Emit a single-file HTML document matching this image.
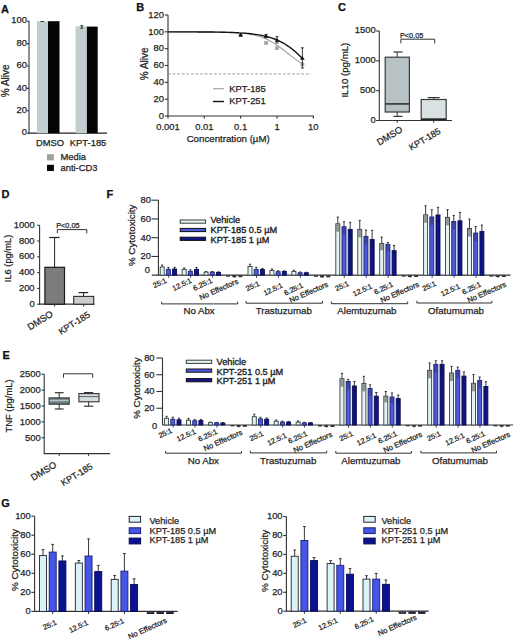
<!DOCTYPE html>
<html><head><meta charset="utf-8"><style>
html,body{margin:0;padding:0;background:#fff;}
body{width:520px;height:642px;overflow:hidden;}
svg{display:block;font-family:"Liberation Sans", sans-serif;}
</style></head><body>
<svg width="520" height="642" viewBox="0 0 520 642">
<rect width="520" height="642" fill="#fff"/>
<text x="0.90" y="12.60" font-size="11" text-anchor="start" font-weight="bold" fill="#111" stroke="#111" stroke-width="0.25">A</text>
<line x1="29.00" y1="20.70" x2="29.00" y2="133.20" stroke="#333" stroke-width="1.1"/>
<line x1="27.00" y1="133.20" x2="29.00" y2="133.20" stroke="#333" stroke-width="1.1"/>
<text x="27.00" y="135.40" font-size="9.4" text-anchor="end" font-weight="normal" fill="#1e1e1e" stroke="#1e1e1e" stroke-width="0.25">0</text>
<line x1="27.00" y1="110.80" x2="29.00" y2="110.80" stroke="#333" stroke-width="1.1"/>
<text x="27.00" y="113.00" font-size="9.4" text-anchor="end" font-weight="normal" fill="#1e1e1e" stroke="#1e1e1e" stroke-width="0.25">20</text>
<line x1="27.00" y1="88.40" x2="29.00" y2="88.40" stroke="#333" stroke-width="1.1"/>
<text x="27.00" y="90.60" font-size="9.4" text-anchor="end" font-weight="normal" fill="#1e1e1e" stroke="#1e1e1e" stroke-width="0.25">40</text>
<line x1="27.00" y1="66.00" x2="29.00" y2="66.00" stroke="#333" stroke-width="1.1"/>
<text x="27.00" y="68.20" font-size="9.4" text-anchor="end" font-weight="normal" fill="#1e1e1e" stroke="#1e1e1e" stroke-width="0.25">60</text>
<line x1="27.00" y1="43.60" x2="29.00" y2="43.60" stroke="#333" stroke-width="1.1"/>
<text x="27.00" y="45.80" font-size="9.4" text-anchor="end" font-weight="normal" fill="#1e1e1e" stroke="#1e1e1e" stroke-width="0.25">80</text>
<line x1="27.00" y1="21.20" x2="29.00" y2="21.20" stroke="#333" stroke-width="1.1"/>
<text x="27.00" y="23.40" font-size="9.4" text-anchor="end" font-weight="normal" fill="#1e1e1e" stroke="#1e1e1e" stroke-width="0.25">100</text>
<line x1="28.50" y1="133.20" x2="107.00" y2="133.20" stroke="#222" stroke-width="1.3"/>
<rect x="37.00" y="21.20" width="11.00" height="112.00" fill="#c2cdcf"/>
<rect x="48.00" y="21.20" width="11.50" height="112.00" fill="#050505"/>
<rect x="75.60" y="26.24" width="11.30" height="106.96" fill="#c2cdcf"/>
<rect x="86.90" y="26.58" width="10.80" height="106.62" fill="#050505"/>
<line x1="40.50" y1="21.50" x2="44.00" y2="21.50" stroke="#222" stroke-width="0.9"/>
<line x1="81.80" y1="25.60" x2="81.80" y2="28.20" stroke="#222" stroke-width="0.9"/>
<line x1="80.40" y1="25.60" x2="83.20" y2="25.60" stroke="#222" stroke-width="0.9"/>
<line x1="80.40" y1="28.20" x2="83.20" y2="28.20" stroke="#222" stroke-width="0.9"/>
<text x="50.10" y="146.30" font-size="9.4" text-anchor="middle" font-weight="normal" fill="#1e1e1e" stroke="#1e1e1e" stroke-width="0.25">DMSO</text>
<text x="88.10" y="146.30" font-size="9.4" text-anchor="middle" font-weight="normal" fill="#1e1e1e" stroke="#1e1e1e" stroke-width="0.25">KPT-185</text>
<rect x="47.00" y="154.20" width="6.90" height="6.20" fill="#a0a0a0"/>
<rect x="47.00" y="164.80" width="6.90" height="6.20" fill="#050505"/>
<text x="60.50" y="160.40" font-size="9.4" text-anchor="start" font-weight="normal" fill="#1e1e1e" stroke="#1e1e1e" stroke-width="0.25">Media</text>
<text x="60.50" y="171.20" font-size="9.4" text-anchor="start" font-weight="normal" fill="#1e1e1e" stroke="#1e1e1e" stroke-width="0.25">anti-CD3</text>
<text x="8.60" y="80.80" font-size="10" text-anchor="middle" font-weight="normal" fill="#1e1e1e" stroke="#1e1e1e" stroke-width="0.25" transform="rotate(-90 8.60 80.80)">% Alive</text>
<text x="136.30" y="11.30" font-size="11" text-anchor="start" font-weight="bold" fill="#111" stroke="#111" stroke-width="0.25">B</text>
<line x1="168.00" y1="15.00" x2="168.00" y2="116.00" stroke="#333" stroke-width="1.1"/>
<line x1="164.80" y1="116.00" x2="168.00" y2="116.00" stroke="#333" stroke-width="1.1"/>
<text x="163.90" y="118.80" font-size="9.4" text-anchor="end" font-weight="normal" fill="#1e1e1e" stroke="#1e1e1e" stroke-width="0.25">0</text>
<line x1="164.80" y1="99.17" x2="168.00" y2="99.17" stroke="#333" stroke-width="1.1"/>
<text x="163.90" y="101.97" font-size="9.4" text-anchor="end" font-weight="normal" fill="#1e1e1e" stroke="#1e1e1e" stroke-width="0.25">20</text>
<line x1="164.80" y1="82.33" x2="168.00" y2="82.33" stroke="#333" stroke-width="1.1"/>
<text x="163.90" y="85.13" font-size="9.4" text-anchor="end" font-weight="normal" fill="#1e1e1e" stroke="#1e1e1e" stroke-width="0.25">40</text>
<line x1="164.80" y1="65.50" x2="168.00" y2="65.50" stroke="#333" stroke-width="1.1"/>
<text x="163.90" y="68.30" font-size="9.4" text-anchor="end" font-weight="normal" fill="#1e1e1e" stroke="#1e1e1e" stroke-width="0.25">60</text>
<line x1="164.80" y1="48.67" x2="168.00" y2="48.67" stroke="#333" stroke-width="1.1"/>
<text x="163.90" y="51.47" font-size="9.4" text-anchor="end" font-weight="normal" fill="#1e1e1e" stroke="#1e1e1e" stroke-width="0.25">80</text>
<line x1="164.80" y1="31.83" x2="168.00" y2="31.83" stroke="#333" stroke-width="1.1"/>
<text x="163.90" y="34.63" font-size="9.4" text-anchor="end" font-weight="normal" fill="#1e1e1e" stroke="#1e1e1e" stroke-width="0.25">100</text>
<line x1="164.80" y1="15.00" x2="168.00" y2="15.00" stroke="#333" stroke-width="1.1"/>
<text x="163.90" y="17.80" font-size="9.4" text-anchor="end" font-weight="normal" fill="#1e1e1e" stroke="#1e1e1e" stroke-width="0.25">120</text>
<line x1="167.50" y1="116.00" x2="314.00" y2="116.00" stroke="#333" stroke-width="1.2"/>
<line x1="168.00" y1="116.00" x2="168.00" y2="118.50" stroke="#333" stroke-width="1.1"/>
<text x="168.00" y="130.40" font-size="9.4" text-anchor="middle" font-weight="normal" fill="#1e1e1e" stroke="#1e1e1e" stroke-width="0.25">0.001</text>
<line x1="204.30" y1="116.00" x2="204.30" y2="118.50" stroke="#333" stroke-width="1.1"/>
<text x="204.30" y="130.40" font-size="9.4" text-anchor="middle" font-weight="normal" fill="#1e1e1e" stroke="#1e1e1e" stroke-width="0.25">0.01</text>
<line x1="240.60" y1="116.00" x2="240.60" y2="118.50" stroke="#333" stroke-width="1.1"/>
<text x="240.60" y="130.40" font-size="9.4" text-anchor="middle" font-weight="normal" fill="#1e1e1e" stroke="#1e1e1e" stroke-width="0.25">0.1</text>
<line x1="277.00" y1="116.00" x2="277.00" y2="118.50" stroke="#333" stroke-width="1.1"/>
<text x="277.00" y="130.40" font-size="9.4" text-anchor="middle" font-weight="normal" fill="#1e1e1e" stroke="#1e1e1e" stroke-width="0.25">1</text>
<line x1="313.30" y1="116.00" x2="313.30" y2="118.50" stroke="#333" stroke-width="1.1"/>
<text x="313.30" y="130.40" font-size="9.4" text-anchor="middle" font-weight="normal" fill="#1e1e1e" stroke="#1e1e1e" stroke-width="0.25">10</text>
<text x="228.20" y="142.20" font-size="9.7" text-anchor="middle" font-weight="normal" fill="#1e1e1e" stroke="#1e1e1e" stroke-width="0.25">Concentration (µM)</text>
<text x="147.60" y="63.80" font-size="10" text-anchor="middle" font-weight="normal" fill="#1e1e1e" stroke="#1e1e1e" stroke-width="0.25" transform="rotate(-90 147.60 63.80)">% Alive</text>
<line x1="168.00" y1="73.92" x2="311.00" y2="73.92" stroke="#8a8a8a" stroke-width="0.9" stroke-dasharray="2.6 2"/>
<polyline points="168.00,31.84 169.68,31.84 171.36,31.84 173.04,31.84 174.72,31.84 176.40,31.84 178.08,31.85 179.76,31.85 181.44,31.85 183.12,31.85 184.80,31.85 186.48,31.86 188.16,31.86 189.84,31.86 191.52,31.87 193.20,31.87 194.88,31.87 196.56,31.88 198.24,31.89 199.92,31.89 201.60,31.90 203.28,31.91 204.96,31.92 206.64,31.93 208.32,31.95 209.99,31.96 211.67,31.98 213.35,32.00 215.03,32.02 216.71,32.05 218.39,32.07 220.07,32.11 221.75,32.14 223.43,32.18 225.11,32.23 226.79,32.28 228.47,32.34 230.15,32.41 231.83,32.48 233.51,32.57 235.19,32.67 236.87,32.78 238.55,32.90 240.23,33.04 241.91,33.20 243.59,33.37 245.27,33.57 246.95,33.80 248.63,34.05 250.31,34.32 251.99,34.64 253.67,34.99 255.35,35.37 257.03,35.80 258.71,36.28 260.39,36.81 262.07,37.39 263.75,38.02 265.43,38.72 267.11,39.48 268.79,40.30 270.47,41.18 272.15,42.13 273.83,43.14 275.51,44.22 277.19,45.34 278.87,46.53 280.55,47.75 282.23,49.02 283.91,50.31 285.59,51.63 287.27,52.95 288.95,54.28 290.63,55.59 292.30,56.88 293.98,58.14 295.66,59.37 297.34,60.54 299.02,61.66 300.70,62.73 302.38,63.73" fill="none" stroke="#a0a0a0" stroke-width="1.1"/>
<polyline points="168.00,31.85 169.68,31.85 171.36,31.85 173.04,31.86 174.72,31.86 176.40,31.86 178.08,31.86 179.76,31.87 181.44,31.87 183.12,31.87 184.80,31.88 186.48,31.88 188.16,31.89 189.84,31.89 191.52,31.90 193.20,31.91 194.88,31.91 196.56,31.92 198.24,31.93 199.92,31.94 201.60,31.95 203.28,31.96 204.96,31.98 206.64,31.99 208.32,32.01 209.99,32.02 211.67,32.04 213.35,32.06 215.03,32.09 216.71,32.11 218.39,32.14 220.07,32.17 221.75,32.21 223.43,32.25 225.11,32.29 226.79,32.33 228.47,32.38 230.15,32.44 231.83,32.50 233.51,32.57 235.19,32.64 236.87,32.72 238.55,32.81 240.23,32.91 241.91,33.02 243.59,33.14 245.27,33.27 246.95,33.41 248.63,33.57 250.31,33.74 251.99,33.93 253.67,34.13 255.35,34.36 257.03,34.61 258.71,34.88 260.39,35.18 262.07,35.50 263.75,35.86 265.43,36.25 267.11,36.67 268.79,37.13 270.47,37.63 272.15,38.18 273.83,38.77 275.51,39.41 277.19,40.10 278.87,40.85 280.55,41.66 282.23,42.54 283.91,43.47 285.59,44.48 287.27,45.55 288.95,46.70 290.63,47.92 292.30,49.22 293.98,50.59 295.66,52.04 297.34,53.57 299.02,55.16 300.70,56.83 302.38,58.56" fill="none" stroke="#111" stroke-width="1.4"/>
<rect x="238.76" y="32.46" width="3.80" height="3.80" fill="#a8a8a8"/>
<rect x="264.15" y="41.04" width="3.80" height="3.80" fill="#a8a8a8"/>
<rect x="275.09" y="46.18" width="3.80" height="3.80" fill="#a8a8a8"/>
<rect x="300.48" y="62.34" width="3.80" height="3.80" fill="#a8a8a8"/>
<line x1="240.66" y1="33.52" x2="240.66" y2="36.04" stroke="#222" stroke-width="0.9"/>
<line x1="239.16" y1="33.52" x2="242.16" y2="33.52" stroke="#222" stroke-width="0.9"/>
<line x1="239.16" y1="36.04" x2="242.16" y2="36.04" stroke="#222" stroke-width="0.9"/>
<line x1="266.05" y1="34.36" x2="266.05" y2="37.72" stroke="#222" stroke-width="0.9"/>
<line x1="264.55" y1="34.36" x2="267.55" y2="34.36" stroke="#222" stroke-width="0.9"/>
<line x1="264.55" y1="37.72" x2="267.55" y2="37.72" stroke="#222" stroke-width="0.9"/>
<line x1="276.99" y1="36.63" x2="276.99" y2="43.03" stroke="#222" stroke-width="0.9"/>
<line x1="275.49" y1="36.63" x2="278.49" y2="36.63" stroke="#222" stroke-width="0.9"/>
<line x1="275.49" y1="43.03" x2="278.49" y2="43.03" stroke="#222" stroke-width="0.9"/>
<line x1="302.38" y1="47.83" x2="302.38" y2="68.03" stroke="#222" stroke-width="0.9"/>
<line x1="300.88" y1="47.83" x2="303.88" y2="47.83" stroke="#222" stroke-width="0.9"/>
<line x1="300.88" y1="68.03" x2="303.88" y2="68.03" stroke="#222" stroke-width="0.9"/>
<path d="M238.36,36.58 L242.96,36.58 L240.66,32.78 Z" fill="#111"/>
<path d="M263.75,37.84 L268.35,37.84 L266.05,34.04 Z" fill="#111"/>
<path d="M274.69,41.63 L279.29,41.63 L276.99,37.83 Z" fill="#111"/>
<path d="M300.08,59.72 L304.68,59.72 L302.38,55.92 Z" fill="#111"/>
<line x1="213.00" y1="88.70" x2="224.00" y2="88.70" stroke="#a0a0a0" stroke-width="1.1"/>
<line x1="213.00" y1="101.50" x2="224.00" y2="101.50" stroke="#111" stroke-width="1.4"/>
<text x="229.30" y="92.40" font-size="9.4" text-anchor="start" font-weight="normal" fill="#1e1e1e" stroke="#1e1e1e" stroke-width="0.25">KPT-185</text>
<text x="229.30" y="104.10" font-size="9.4" text-anchor="start" font-weight="normal" fill="#1e1e1e" stroke="#1e1e1e" stroke-width="0.25">KPT-251</text>
<text x="338.00" y="10.50" font-size="11" text-anchor="start" font-weight="bold" fill="#111" stroke="#111" stroke-width="0.25">C</text>
<line x1="379.30" y1="31.00" x2="379.30" y2="120.50" stroke="#333" stroke-width="1.1"/>
<line x1="376.10" y1="120.50" x2="379.30" y2="120.50" stroke="#333" stroke-width="1.1"/>
<text x="375.60" y="122.90" font-size="9.4" text-anchor="end" font-weight="normal" fill="#1e1e1e" stroke="#1e1e1e" stroke-width="0.25">0</text>
<line x1="376.10" y1="90.67" x2="379.30" y2="90.67" stroke="#333" stroke-width="1.1"/>
<text x="375.60" y="93.07" font-size="9.4" text-anchor="end" font-weight="normal" fill="#1e1e1e" stroke="#1e1e1e" stroke-width="0.25">500</text>
<line x1="376.10" y1="60.83" x2="379.30" y2="60.83" stroke="#333" stroke-width="1.1"/>
<text x="375.60" y="63.23" font-size="9.4" text-anchor="end" font-weight="normal" fill="#1e1e1e" stroke="#1e1e1e" stroke-width="0.25">1000</text>
<line x1="376.10" y1="31.00" x2="379.30" y2="31.00" stroke="#333" stroke-width="1.1"/>
<text x="375.60" y="33.40" font-size="9.4" text-anchor="end" font-weight="normal" fill="#1e1e1e" stroke="#1e1e1e" stroke-width="0.25">1500</text>
<line x1="379.00" y1="120.50" x2="452.00" y2="120.50" stroke="#333" stroke-width="1.2"/>
<line x1="397.20" y1="120.50" x2="397.20" y2="122.80" stroke="#333" stroke-width="1.0"/>
<line x1="433.70" y1="120.50" x2="433.70" y2="122.80" stroke="#333" stroke-width="1.0"/>
<line x1="397.20" y1="52.00" x2="397.20" y2="57.20" stroke="#333" stroke-width="1.0"/>
<line x1="393.50" y1="52.00" x2="402.50" y2="52.00" stroke="#333" stroke-width="1.2"/>
<rect x="385.20" y="57.20" width="24.20" height="54.80" fill="#b6c2c4" stroke="#3a3a3a" stroke-width="1.2"/>
<line x1="385.20" y1="103.90" x2="409.40" y2="103.90" stroke="#3a3a3a" stroke-width="1.7"/>
<line x1="397.20" y1="112.00" x2="397.20" y2="116.40" stroke="#333" stroke-width="1.0"/>
<line x1="393.50" y1="116.40" x2="402.50" y2="116.40" stroke="#333" stroke-width="1.2"/>
<line x1="433.70" y1="97.60" x2="433.70" y2="99.50" stroke="#333" stroke-width="1.0"/>
<line x1="427.60" y1="97.60" x2="439.70" y2="97.60" stroke="#333" stroke-width="1.2"/>
<rect x="421.20" y="99.50" width="25.00" height="19.80" fill="#d9e1e2" stroke="#3a3a3a" stroke-width="1.2"/>
<line x1="421.20" y1="119.20" x2="446.20" y2="119.20" stroke="#222" stroke-width="1.5"/>
<text x="400.00" y="37.80" font-size="7.9" text-anchor="start" font-weight="normal" fill="#1e1e1e" stroke="#1e1e1e" stroke-width="0.25" textLength="23.2" lengthAdjust="spacingAndGlyphs">P&lt;0.05</text>
<path d="M400.9,43.4 L400.9,39.2 L434.7,39.2 L434.7,43.4" stroke="#333" stroke-width="1.0" fill="none"/>
<text x="348.40" y="70.10" font-size="9.7" text-anchor="middle" font-weight="normal" fill="#1e1e1e" stroke="#1e1e1e" stroke-width="0.25" transform="rotate(-90 348.40 70.10)">IL10 (pg/mL)</text>
<text x="403.30" y="131.30" font-size="9.4" text-anchor="end" font-weight="normal" fill="#1e1e1e" stroke="#1e1e1e" stroke-width="0.25" transform="rotate(-31 403.30 131.30)">DMSO</text>
<text x="441.40" y="132.80" font-size="9.0" text-anchor="end" font-weight="normal" fill="#1e1e1e" stroke="#1e1e1e" stroke-width="0.25" transform="rotate(-31 441.40 132.80)">KPT-185</text>
<text x="1.60" y="197.50" font-size="11" text-anchor="start" font-weight="bold" fill="#111" stroke="#111" stroke-width="0.25">D</text>
<line x1="39.60" y1="225.20" x2="39.60" y2="304.20" stroke="#333" stroke-width="1.1"/>
<line x1="37.20" y1="304.20" x2="39.60" y2="304.20" stroke="#333" stroke-width="1.1"/>
<text x="34.60" y="306.80" font-size="9.4" text-anchor="end" font-weight="normal" fill="#1e1e1e" stroke="#1e1e1e" stroke-width="0.25">0</text>
<line x1="37.20" y1="288.40" x2="39.60" y2="288.40" stroke="#333" stroke-width="1.1"/>
<text x="34.60" y="291.00" font-size="9.4" text-anchor="end" font-weight="normal" fill="#1e1e1e" stroke="#1e1e1e" stroke-width="0.25">200</text>
<line x1="37.20" y1="272.60" x2="39.60" y2="272.60" stroke="#333" stroke-width="1.1"/>
<text x="34.60" y="275.20" font-size="9.4" text-anchor="end" font-weight="normal" fill="#1e1e1e" stroke="#1e1e1e" stroke-width="0.25">400</text>
<line x1="37.20" y1="256.80" x2="39.60" y2="256.80" stroke="#333" stroke-width="1.1"/>
<text x="34.60" y="259.40" font-size="9.4" text-anchor="end" font-weight="normal" fill="#1e1e1e" stroke="#1e1e1e" stroke-width="0.25">600</text>
<line x1="37.20" y1="241.00" x2="39.60" y2="241.00" stroke="#333" stroke-width="1.1"/>
<text x="34.60" y="243.60" font-size="9.4" text-anchor="end" font-weight="normal" fill="#1e1e1e" stroke="#1e1e1e" stroke-width="0.25">800</text>
<line x1="37.20" y1="225.20" x2="39.60" y2="225.20" stroke="#333" stroke-width="1.1"/>
<text x="34.60" y="227.80" font-size="9.4" text-anchor="end" font-weight="normal" fill="#1e1e1e" stroke="#1e1e1e" stroke-width="0.25">1000</text>
<line x1="39.00" y1="304.20" x2="94.50" y2="304.20" stroke="#333" stroke-width="1.2"/>
<line x1="54.60" y1="304.20" x2="54.60" y2="306.50" stroke="#333" stroke-width="1.0"/>
<line x1="83.60" y1="304.20" x2="83.60" y2="306.50" stroke="#333" stroke-width="1.0"/>
<line x1="54.60" y1="237.50" x2="54.60" y2="267.30" stroke="#222" stroke-width="1.0"/>
<line x1="49.30" y1="237.50" x2="59.60" y2="237.50" stroke="#222" stroke-width="1.2"/>
<rect x="44.90" y="267.30" width="19.60" height="36.90" fill="#7c7c7c" stroke="#1a1a1a" stroke-width="1.2"/>
<line x1="83.60" y1="292.60" x2="83.60" y2="296.40" stroke="#222" stroke-width="1.0"/>
<line x1="78.60" y1="292.60" x2="88.20" y2="292.60" stroke="#222" stroke-width="1.2"/>
<rect x="73.70" y="296.40" width="20.00" height="7.80" fill="#cdcdcd" stroke="#2a2a2a" stroke-width="1.1"/>
<text x="56.20" y="228.30" font-size="7.9" text-anchor="start" font-weight="normal" fill="#1e1e1e" stroke="#1e1e1e" stroke-width="0.25" textLength="23.4" lengthAdjust="spacingAndGlyphs">P&lt;0.05</text>
<path d="M57.3,233.3 L57.3,229.6 L86.8,229.6 L86.8,233.3" stroke="#333" stroke-width="1.0" fill="none"/>
<text x="11.40" y="258.40" font-size="9.3" text-anchor="middle" font-weight="normal" fill="#1e1e1e" stroke="#1e1e1e" stroke-width="0.25" transform="rotate(-90 11.40 258.40)">IL6 (pg/mL)</text>
<text x="53.80" y="315.60" font-size="9.4" text-anchor="end" font-weight="normal" fill="#1e1e1e" stroke="#1e1e1e" stroke-width="0.25" transform="rotate(-32 53.80 315.60)">DMSO</text>
<text x="90.70" y="316.40" font-size="9.0" text-anchor="end" font-weight="normal" fill="#1e1e1e" stroke="#1e1e1e" stroke-width="0.25" transform="rotate(-32 90.70 316.40)">KPT-185</text>
<text x="2.40" y="358.60" font-size="11" text-anchor="start" font-weight="bold" fill="#111" stroke="#111" stroke-width="0.25">E</text>
<line x1="44.20" y1="374.30" x2="44.20" y2="453.60" stroke="#333" stroke-width="1.1"/>
<line x1="41.60" y1="437.74" x2="44.20" y2="437.74" stroke="#333" stroke-width="1.1"/>
<text x="40.70" y="440.54" font-size="9.4" text-anchor="end" font-weight="normal" fill="#1e1e1e" stroke="#1e1e1e" stroke-width="0.25">500</text>
<line x1="41.60" y1="421.88" x2="44.20" y2="421.88" stroke="#333" stroke-width="1.1"/>
<text x="40.70" y="424.68" font-size="9.4" text-anchor="end" font-weight="normal" fill="#1e1e1e" stroke="#1e1e1e" stroke-width="0.25">1000</text>
<line x1="41.60" y1="406.02" x2="44.20" y2="406.02" stroke="#333" stroke-width="1.1"/>
<text x="40.70" y="408.82" font-size="9.4" text-anchor="end" font-weight="normal" fill="#1e1e1e" stroke="#1e1e1e" stroke-width="0.25">1500</text>
<line x1="41.60" y1="390.16" x2="44.20" y2="390.16" stroke="#333" stroke-width="1.1"/>
<text x="40.70" y="392.96" font-size="9.4" text-anchor="end" font-weight="normal" fill="#1e1e1e" stroke="#1e1e1e" stroke-width="0.25">2000</text>
<line x1="41.60" y1="374.30" x2="44.20" y2="374.30" stroke="#333" stroke-width="1.1"/>
<text x="40.70" y="377.10" font-size="9.4" text-anchor="end" font-weight="normal" fill="#1e1e1e" stroke="#1e1e1e" stroke-width="0.25">2500</text>
<line x1="43.70" y1="453.60" x2="110.00" y2="453.60" stroke="#333" stroke-width="1.2"/>
<line x1="59.20" y1="453.60" x2="59.20" y2="455.90" stroke="#333" stroke-width="1.0"/>
<line x1="88.60" y1="453.60" x2="88.60" y2="455.90" stroke="#333" stroke-width="1.0"/>
<line x1="59.20" y1="392.70" x2="59.20" y2="397.90" stroke="#333" stroke-width="1.0"/>
<line x1="54.80" y1="392.70" x2="63.60" y2="392.70" stroke="#333" stroke-width="1.2"/>
<rect x="49.10" y="397.90" width="20.10" height="6.30" fill="#6c7f86" stroke="#333" stroke-width="1.1"/>
<line x1="49.60" y1="400.50" x2="68.70" y2="400.50" stroke="#b4c2c6" stroke-width="1.5"/>
<line x1="59.20" y1="404.20" x2="59.20" y2="409.00" stroke="#333" stroke-width="1.0"/>
<line x1="54.80" y1="409.00" x2="63.60" y2="409.00" stroke="#333" stroke-width="1.2"/>
<line x1="88.60" y1="392.60" x2="88.60" y2="393.60" stroke="#333" stroke-width="1.0"/>
<line x1="84.00" y1="392.60" x2="93.20" y2="392.60" stroke="#333" stroke-width="1.2"/>
<rect x="78.90" y="393.60" width="20.10" height="8.20" fill="#d3dddf" stroke="#333" stroke-width="1.1"/>
<line x1="78.90" y1="396.60" x2="99.00" y2="396.60" stroke="#555" stroke-width="0.9"/>
<line x1="88.60" y1="401.80" x2="88.60" y2="406.20" stroke="#333" stroke-width="1.0"/>
<line x1="84.00" y1="406.20" x2="93.20" y2="406.20" stroke="#333" stroke-width="1.2"/>
<path d="M63.5,377.7 L63.5,373.8 L92.7,373.8 L92.7,377.7" stroke="#333" stroke-width="1.0" fill="none"/>
<text x="12.30" y="406.00" font-size="9.4" text-anchor="middle" font-weight="normal" fill="#1e1e1e" stroke="#1e1e1e" stroke-width="0.25" transform="rotate(-90 12.30 406.00)">TNF (pg/mL)</text>
<text x="57.30" y="466.60" font-size="9.4" text-anchor="end" font-weight="normal" fill="#1e1e1e" stroke="#1e1e1e" stroke-width="0.25" transform="rotate(-31 57.30 466.60)">DMSO</text>
<text x="93.40" y="468.20" font-size="9.0" text-anchor="end" font-weight="normal" fill="#1e1e1e" stroke="#1e1e1e" stroke-width="0.25" transform="rotate(-31 93.40 468.20)">KPT-185</text>
<line x1="158.40" y1="200.20" x2="158.40" y2="275.20" stroke="#333" stroke-width="1.1"/>
<line x1="151.50" y1="256.45" x2="158.40" y2="256.45" stroke="#333" stroke-width="1.1"/>
<text x="150.90" y="259.25" font-size="9.4" text-anchor="end" font-weight="normal" fill="#1e1e1e" stroke="#1e1e1e" stroke-width="0.25">20</text>
<line x1="151.50" y1="237.70" x2="158.40" y2="237.70" stroke="#333" stroke-width="1.1"/>
<text x="150.90" y="240.50" font-size="9.4" text-anchor="end" font-weight="normal" fill="#1e1e1e" stroke="#1e1e1e" stroke-width="0.25">40</text>
<line x1="151.50" y1="218.95" x2="158.40" y2="218.95" stroke="#333" stroke-width="1.1"/>
<text x="150.90" y="221.75" font-size="9.4" text-anchor="end" font-weight="normal" fill="#1e1e1e" stroke="#1e1e1e" stroke-width="0.25">60</text>
<line x1="151.50" y1="200.20" x2="158.40" y2="200.20" stroke="#333" stroke-width="1.1"/>
<text x="150.90" y="203.00" font-size="9.4" text-anchor="end" font-weight="normal" fill="#1e1e1e" stroke="#1e1e1e" stroke-width="0.25">80</text>
<text x="149.90" y="272.60" font-size="9.4" text-anchor="end" font-weight="normal" fill="#1e1e1e" stroke="#1e1e1e" stroke-width="0.25">0</text>
<line x1="151.80" y1="275.20" x2="510.50" y2="275.20" stroke="#333" stroke-width="1.2"/>
<line x1="168.70" y1="275.20" x2="168.70" y2="277.80" stroke="#333" stroke-width="0.9"/>
<line x1="162.20" y1="265.07" x2="162.20" y2="267.04" stroke="#222" stroke-width="0.9"/>
<line x1="161.10" y1="265.07" x2="163.30" y2="265.07" stroke="#222" stroke-width="0.9"/>
<rect x="160.20" y="267.04" width="4.00" height="8.16" fill="#e6f3f3" stroke="#34403f" stroke-width="0.9"/>
<line x1="168.40" y1="267.51" x2="168.40" y2="269.39" stroke="#222" stroke-width="0.9"/>
<line x1="167.30" y1="267.51" x2="169.50" y2="267.51" stroke="#222" stroke-width="0.9"/>
<rect x="166.40" y="269.39" width="4.00" height="5.81" fill="#4d59dc" stroke="#1d2470" stroke-width="0.9"/>
<line x1="174.60" y1="267.23" x2="174.60" y2="269.01" stroke="#222" stroke-width="0.9"/>
<line x1="173.50" y1="267.23" x2="175.70" y2="267.23" stroke="#222" stroke-width="0.9"/>
<rect x="172.60" y="269.01" width="4.00" height="6.19" fill="#0f1585" stroke="#0a0d50" stroke-width="0.9"/>
<line x1="190.65" y1="275.20" x2="190.65" y2="277.80" stroke="#333" stroke-width="0.9"/>
<line x1="184.15" y1="267.98" x2="184.15" y2="269.39" stroke="#222" stroke-width="0.9"/>
<line x1="183.05" y1="267.98" x2="185.25" y2="267.98" stroke="#222" stroke-width="0.9"/>
<rect x="182.15" y="269.39" width="4.00" height="5.81" fill="#e6f3f3" stroke="#34403f" stroke-width="0.9"/>
<line x1="190.35" y1="269.86" x2="190.35" y2="271.36" stroke="#222" stroke-width="0.9"/>
<line x1="189.25" y1="269.86" x2="191.45" y2="269.86" stroke="#222" stroke-width="0.9"/>
<rect x="188.35" y="271.36" width="4.00" height="3.84" fill="#4d59dc" stroke="#1d2470" stroke-width="0.9"/>
<line x1="196.55" y1="267.51" x2="196.55" y2="269.39" stroke="#222" stroke-width="0.9"/>
<line x1="195.45" y1="267.51" x2="197.65" y2="267.51" stroke="#222" stroke-width="0.9"/>
<rect x="194.55" y="269.39" width="4.00" height="5.81" fill="#0f1585" stroke="#0a0d50" stroke-width="0.9"/>
<line x1="212.60" y1="275.20" x2="212.60" y2="277.80" stroke="#333" stroke-width="0.9"/>
<line x1="206.10" y1="271.54" x2="206.10" y2="272.11" stroke="#222" stroke-width="0.9"/>
<line x1="205.00" y1="271.54" x2="207.20" y2="271.54" stroke="#222" stroke-width="0.9"/>
<rect x="204.10" y="272.11" width="4.00" height="3.09" fill="#e6f3f3" stroke="#34403f" stroke-width="0.9"/>
<line x1="212.30" y1="271.54" x2="212.30" y2="272.11" stroke="#222" stroke-width="0.9"/>
<line x1="211.20" y1="271.54" x2="213.40" y2="271.54" stroke="#222" stroke-width="0.9"/>
<rect x="210.30" y="272.11" width="4.00" height="3.09" fill="#4d59dc" stroke="#1d2470" stroke-width="0.9"/>
<line x1="218.50" y1="271.92" x2="218.50" y2="272.39" stroke="#222" stroke-width="0.9"/>
<line x1="217.40" y1="271.92" x2="219.60" y2="271.92" stroke="#222" stroke-width="0.9"/>
<rect x="216.50" y="272.39" width="4.00" height="2.81" fill="#0f1585" stroke="#0a0d50" stroke-width="0.9"/>
<line x1="234.55" y1="275.20" x2="234.55" y2="277.80" stroke="#333" stroke-width="0.9"/>
<rect x="226.05" y="275.20" width="4.00" height="1.44" fill="#333"/>
<rect x="232.25" y="275.20" width="4.00" height="2.00" fill="#333"/>
<rect x="238.45" y="275.20" width="4.00" height="2.00" fill="#333"/>
<line x1="256.50" y1="275.20" x2="256.50" y2="277.80" stroke="#333" stroke-width="0.9"/>
<line x1="250.00" y1="264.23" x2="250.00" y2="266.48" stroke="#222" stroke-width="0.9"/>
<line x1="248.90" y1="264.23" x2="251.10" y2="264.23" stroke="#222" stroke-width="0.9"/>
<rect x="248.00" y="266.48" width="4.00" height="8.72" fill="#e6f3f3" stroke="#34403f" stroke-width="0.9"/>
<line x1="256.20" y1="267.32" x2="256.20" y2="269.39" stroke="#222" stroke-width="0.9"/>
<line x1="255.10" y1="267.32" x2="257.30" y2="267.32" stroke="#222" stroke-width="0.9"/>
<rect x="254.20" y="269.39" width="4.00" height="5.81" fill="#4d59dc" stroke="#1d2470" stroke-width="0.9"/>
<line x1="262.40" y1="268.45" x2="262.40" y2="269.57" stroke="#222" stroke-width="0.9"/>
<line x1="261.30" y1="268.45" x2="263.50" y2="268.45" stroke="#222" stroke-width="0.9"/>
<rect x="260.40" y="269.57" width="4.00" height="5.62" fill="#0f1585" stroke="#0a0d50" stroke-width="0.9"/>
<line x1="278.45" y1="275.20" x2="278.45" y2="277.80" stroke="#333" stroke-width="0.9"/>
<line x1="271.95" y1="269.01" x2="271.95" y2="270.42" stroke="#222" stroke-width="0.9"/>
<line x1="270.85" y1="269.01" x2="273.05" y2="269.01" stroke="#222" stroke-width="0.9"/>
<rect x="269.95" y="270.42" width="4.00" height="4.78" fill="#e6f3f3" stroke="#34403f" stroke-width="0.9"/>
<line x1="278.15" y1="270.79" x2="278.15" y2="271.73" stroke="#222" stroke-width="0.9"/>
<line x1="277.05" y1="270.79" x2="279.25" y2="270.79" stroke="#222" stroke-width="0.9"/>
<rect x="276.15" y="271.73" width="4.00" height="3.47" fill="#4d59dc" stroke="#1d2470" stroke-width="0.9"/>
<line x1="284.35" y1="270.79" x2="284.35" y2="271.54" stroke="#222" stroke-width="0.9"/>
<line x1="283.25" y1="270.79" x2="285.45" y2="270.79" stroke="#222" stroke-width="0.9"/>
<rect x="282.35" y="271.54" width="4.00" height="3.66" fill="#0f1585" stroke="#0a0d50" stroke-width="0.9"/>
<line x1="300.40" y1="275.20" x2="300.40" y2="277.80" stroke="#333" stroke-width="0.9"/>
<line x1="293.90" y1="270.23" x2="293.90" y2="271.54" stroke="#222" stroke-width="0.9"/>
<line x1="292.80" y1="270.23" x2="295.00" y2="270.23" stroke="#222" stroke-width="0.9"/>
<rect x="291.90" y="271.54" width="4.00" height="3.66" fill="#e6f3f3" stroke="#34403f" stroke-width="0.9"/>
<line x1="300.10" y1="272.01" x2="300.10" y2="272.76" stroke="#222" stroke-width="0.9"/>
<line x1="299.00" y1="272.01" x2="301.20" y2="272.01" stroke="#222" stroke-width="0.9"/>
<rect x="298.10" y="272.76" width="4.00" height="2.44" fill="#4d59dc" stroke="#1d2470" stroke-width="0.9"/>
<line x1="306.30" y1="272.29" x2="306.30" y2="272.76" stroke="#222" stroke-width="0.9"/>
<line x1="305.20" y1="272.29" x2="307.40" y2="272.29" stroke="#222" stroke-width="0.9"/>
<rect x="304.30" y="272.76" width="4.00" height="2.44" fill="#0f1585" stroke="#0a0d50" stroke-width="0.9"/>
<line x1="322.35" y1="275.20" x2="322.35" y2="277.80" stroke="#333" stroke-width="0.9"/>
<rect x="313.85" y="275.20" width="4.00" height="1.62" fill="#333"/>
<rect x="320.05" y="275.20" width="4.00" height="2.19" fill="#333"/>
<rect x="326.25" y="275.20" width="4.00" height="2.19" fill="#333"/>
<line x1="344.30" y1="275.20" x2="344.30" y2="277.80" stroke="#333" stroke-width="0.9"/>
<line x1="337.80" y1="217.07" x2="337.80" y2="223.73" stroke="#222" stroke-width="0.9"/>
<line x1="336.70" y1="217.07" x2="338.90" y2="217.07" stroke="#222" stroke-width="0.9"/>
<rect x="335.80" y="223.73" width="4.00" height="51.47" fill="#e6f3f3" stroke="#34403f" stroke-width="0.9"/>
<rect x="336.30" y="224.23" width="3.00" height="7.50" fill="#000" fill-opacity="0.38"/>
<line x1="344.00" y1="221.76" x2="344.00" y2="226.73" stroke="#222" stroke-width="0.9"/>
<line x1="342.90" y1="221.76" x2="345.10" y2="221.76" stroke="#222" stroke-width="0.9"/>
<rect x="342.00" y="226.73" width="4.00" height="48.47" fill="#4d59dc" stroke="#1d2470" stroke-width="0.9"/>
<rect x="342.50" y="227.23" width="3.00" height="7.50" fill="#000" fill-opacity="0.22"/>
<line x1="350.20" y1="222.32" x2="350.20" y2="229.36" stroke="#222" stroke-width="0.9"/>
<line x1="349.10" y1="222.32" x2="351.30" y2="222.32" stroke="#222" stroke-width="0.9"/>
<rect x="348.20" y="229.36" width="4.00" height="45.84" fill="#0f1585" stroke="#0a0d50" stroke-width="0.9"/>
<rect x="348.70" y="229.86" width="3.00" height="7.50" fill="#000" fill-opacity="0.12"/>
<line x1="366.25" y1="275.20" x2="366.25" y2="277.80" stroke="#333" stroke-width="0.9"/>
<line x1="359.75" y1="220.36" x2="359.75" y2="229.36" stroke="#222" stroke-width="0.9"/>
<line x1="358.65" y1="220.36" x2="360.85" y2="220.36" stroke="#222" stroke-width="0.9"/>
<rect x="357.75" y="229.36" width="4.00" height="45.84" fill="#e6f3f3" stroke="#34403f" stroke-width="0.9"/>
<rect x="358.25" y="229.86" width="3.00" height="7.50" fill="#000" fill-opacity="0.38"/>
<line x1="365.95" y1="230.01" x2="365.95" y2="236.39" stroke="#222" stroke-width="0.9"/>
<line x1="364.85" y1="230.01" x2="367.05" y2="230.01" stroke="#222" stroke-width="0.9"/>
<rect x="363.95" y="236.39" width="4.00" height="38.81" fill="#4d59dc" stroke="#1d2470" stroke-width="0.9"/>
<rect x="364.45" y="236.89" width="3.00" height="7.50" fill="#000" fill-opacity="0.22"/>
<line x1="372.15" y1="230.39" x2="372.15" y2="239.57" stroke="#222" stroke-width="0.9"/>
<line x1="371.05" y1="230.39" x2="373.25" y2="230.39" stroke="#222" stroke-width="0.9"/>
<rect x="370.15" y="239.57" width="4.00" height="35.62" fill="#0f1585" stroke="#0a0d50" stroke-width="0.9"/>
<rect x="370.65" y="240.07" width="3.00" height="7.12" fill="#000" fill-opacity="0.12"/>
<line x1="388.20" y1="275.20" x2="388.20" y2="277.80" stroke="#333" stroke-width="0.9"/>
<line x1="381.70" y1="237.14" x2="381.70" y2="243.51" stroke="#222" stroke-width="0.9"/>
<line x1="380.60" y1="237.14" x2="382.80" y2="237.14" stroke="#222" stroke-width="0.9"/>
<rect x="379.70" y="243.51" width="4.00" height="31.69" fill="#e6f3f3" stroke="#34403f" stroke-width="0.9"/>
<rect x="380.20" y="244.01" width="3.00" height="6.34" fill="#000" fill-opacity="0.38"/>
<line x1="387.90" y1="242.48" x2="387.90" y2="244.36" stroke="#222" stroke-width="0.9"/>
<line x1="386.80" y1="242.48" x2="389.00" y2="242.48" stroke="#222" stroke-width="0.9"/>
<rect x="385.90" y="244.36" width="4.00" height="30.84" fill="#4d59dc" stroke="#1d2470" stroke-width="0.9"/>
<rect x="386.40" y="244.86" width="3.00" height="6.17" fill="#000" fill-opacity="0.22"/>
<line x1="394.10" y1="245.39" x2="394.10" y2="250.64" stroke="#222" stroke-width="0.9"/>
<line x1="393.00" y1="245.39" x2="395.20" y2="245.39" stroke="#222" stroke-width="0.9"/>
<rect x="392.10" y="250.64" width="4.00" height="24.56" fill="#0f1585" stroke="#0a0d50" stroke-width="0.9"/>
<rect x="392.60" y="251.14" width="3.00" height="4.91" fill="#000" fill-opacity="0.12"/>
<line x1="410.15" y1="275.20" x2="410.15" y2="277.80" stroke="#333" stroke-width="0.9"/>
<rect x="401.65" y="275.20" width="4.00" height="1.44" fill="#333"/>
<rect x="407.85" y="275.20" width="4.00" height="1.81" fill="#333"/>
<rect x="414.05" y="275.20" width="4.00" height="1.81" fill="#333"/>
<line x1="432.10" y1="275.20" x2="432.10" y2="277.80" stroke="#333" stroke-width="0.9"/>
<line x1="425.60" y1="205.73" x2="425.60" y2="214.82" stroke="#222" stroke-width="0.9"/>
<line x1="424.50" y1="205.73" x2="426.70" y2="205.73" stroke="#222" stroke-width="0.9"/>
<rect x="423.60" y="214.82" width="4.00" height="60.38" fill="#e6f3f3" stroke="#34403f" stroke-width="0.9"/>
<rect x="424.10" y="215.32" width="3.00" height="7.50" fill="#000" fill-opacity="0.38"/>
<line x1="431.80" y1="209.67" x2="431.80" y2="216.98" stroke="#222" stroke-width="0.9"/>
<line x1="430.70" y1="209.67" x2="432.90" y2="209.67" stroke="#222" stroke-width="0.9"/>
<rect x="429.80" y="216.98" width="4.00" height="58.22" fill="#4d59dc" stroke="#1d2470" stroke-width="0.9"/>
<rect x="430.30" y="217.48" width="3.00" height="7.50" fill="#000" fill-opacity="0.22"/>
<line x1="438.00" y1="207.32" x2="438.00" y2="215.01" stroke="#222" stroke-width="0.9"/>
<line x1="436.90" y1="207.32" x2="439.10" y2="207.32" stroke="#222" stroke-width="0.9"/>
<rect x="436.00" y="215.01" width="4.00" height="60.19" fill="#0f1585" stroke="#0a0d50" stroke-width="0.9"/>
<rect x="436.50" y="215.51" width="3.00" height="7.50" fill="#000" fill-opacity="0.12"/>
<line x1="454.05" y1="275.20" x2="454.05" y2="277.80" stroke="#333" stroke-width="0.9"/>
<line x1="447.55" y1="209.67" x2="447.55" y2="217.36" stroke="#222" stroke-width="0.9"/>
<line x1="446.45" y1="209.67" x2="448.65" y2="209.67" stroke="#222" stroke-width="0.9"/>
<rect x="445.55" y="217.36" width="4.00" height="57.84" fill="#e6f3f3" stroke="#34403f" stroke-width="0.9"/>
<rect x="446.05" y="217.86" width="3.00" height="7.50" fill="#000" fill-opacity="0.38"/>
<line x1="453.75" y1="215.39" x2="453.75" y2="221.48" stroke="#222" stroke-width="0.9"/>
<line x1="452.65" y1="215.39" x2="454.85" y2="215.39" stroke="#222" stroke-width="0.9"/>
<rect x="451.75" y="221.48" width="4.00" height="53.72" fill="#4d59dc" stroke="#1d2470" stroke-width="0.9"/>
<rect x="452.25" y="221.98" width="3.00" height="7.50" fill="#000" fill-opacity="0.22"/>
<line x1="459.95" y1="212.39" x2="459.95" y2="220.82" stroke="#222" stroke-width="0.9"/>
<line x1="458.85" y1="212.39" x2="461.05" y2="212.39" stroke="#222" stroke-width="0.9"/>
<rect x="457.95" y="220.82" width="4.00" height="54.38" fill="#0f1585" stroke="#0a0d50" stroke-width="0.9"/>
<rect x="458.45" y="221.32" width="3.00" height="7.50" fill="#000" fill-opacity="0.12"/>
<line x1="476.00" y1="275.20" x2="476.00" y2="277.80" stroke="#333" stroke-width="0.9"/>
<line x1="469.50" y1="219.04" x2="469.50" y2="228.51" stroke="#222" stroke-width="0.9"/>
<line x1="468.40" y1="219.04" x2="470.60" y2="219.04" stroke="#222" stroke-width="0.9"/>
<rect x="467.50" y="228.51" width="4.00" height="46.69" fill="#e6f3f3" stroke="#34403f" stroke-width="0.9"/>
<rect x="468.00" y="229.01" width="3.00" height="7.50" fill="#000" fill-opacity="0.38"/>
<line x1="475.70" y1="226.54" x2="475.70" y2="233.01" stroke="#222" stroke-width="0.9"/>
<line x1="474.60" y1="226.54" x2="476.80" y2="226.54" stroke="#222" stroke-width="0.9"/>
<rect x="473.70" y="233.01" width="4.00" height="42.19" fill="#4d59dc" stroke="#1d2470" stroke-width="0.9"/>
<rect x="474.20" y="233.51" width="3.00" height="7.50" fill="#000" fill-opacity="0.22"/>
<line x1="481.90" y1="225.14" x2="481.90" y2="231.51" stroke="#222" stroke-width="0.9"/>
<line x1="480.80" y1="225.14" x2="483.00" y2="225.14" stroke="#222" stroke-width="0.9"/>
<rect x="479.90" y="231.51" width="4.00" height="43.69" fill="#0f1585" stroke="#0a0d50" stroke-width="0.9"/>
<rect x="480.40" y="232.01" width="3.00" height="7.50" fill="#000" fill-opacity="0.12"/>
<line x1="497.95" y1="275.20" x2="497.95" y2="277.80" stroke="#333" stroke-width="0.9"/>
<rect x="489.45" y="275.20" width="4.00" height="1.44" fill="#333"/>
<rect x="495.65" y="275.20" width="4.00" height="1.81" fill="#333"/>
<rect x="501.85" y="275.20" width="4.00" height="1.81" fill="#333"/>
<text x="167.20" y="282.30" font-size="7.3" text-anchor="end" font-weight="normal" fill="#1e1e1e" stroke="#1e1e1e" stroke-width="0.25" transform="rotate(-25 167.20 282.30)">25:1</text>
<text x="192.20" y="282.30" font-size="7.3" text-anchor="end" font-weight="normal" fill="#1e1e1e" stroke="#1e1e1e" stroke-width="0.25" transform="rotate(-25 192.20 282.30)">12.5:1</text>
<text x="213.00" y="282.30" font-size="7.3" text-anchor="end" font-weight="normal" fill="#1e1e1e" stroke="#1e1e1e" stroke-width="0.25" transform="rotate(-25 213.00 282.30)">6.25:1</text>
<text x="238.90" y="283.20" font-size="7.6" text-anchor="end" font-weight="normal" fill="#1e1e1e" stroke="#1e1e1e" stroke-width="0.25" transform="rotate(-24 238.90 283.20)">No Effectors</text>
<text x="260.20" y="285.20" font-size="7.3" text-anchor="end" font-weight="normal" fill="#1e1e1e" stroke="#1e1e1e" stroke-width="0.25" transform="rotate(-25 260.20 285.20)">25:1</text>
<text x="283.30" y="287.10" font-size="7.3" text-anchor="end" font-weight="normal" fill="#1e1e1e" stroke="#1e1e1e" stroke-width="0.25" transform="rotate(-25 283.30 287.10)">12.5:1</text>
<text x="303.80" y="287.10" font-size="7.3" text-anchor="end" font-weight="normal" fill="#1e1e1e" stroke="#1e1e1e" stroke-width="0.25" transform="rotate(-25 303.80 287.10)">6.25:1</text>
<text x="328.80" y="286.10" font-size="7.6" text-anchor="end" font-weight="normal" fill="#1e1e1e" stroke="#1e1e1e" stroke-width="0.25" transform="rotate(-24 328.80 286.10)">No Effectors</text>
<text x="349.50" y="285.20" font-size="7.3" text-anchor="end" font-weight="normal" fill="#1e1e1e" stroke="#1e1e1e" stroke-width="0.25" transform="rotate(-25 349.50 285.20)">25:1</text>
<text x="372.60" y="288.00" font-size="7.3" text-anchor="end" font-weight="normal" fill="#1e1e1e" stroke="#1e1e1e" stroke-width="0.25" transform="rotate(-25 372.60 288.00)">12.5:1</text>
<text x="393.80" y="286.10" font-size="7.3" text-anchor="end" font-weight="normal" fill="#1e1e1e" stroke="#1e1e1e" stroke-width="0.25" transform="rotate(-25 393.80 286.10)">6.25:1</text>
<text x="419.70" y="286.10" font-size="7.6" text-anchor="end" font-weight="normal" fill="#1e1e1e" stroke="#1e1e1e" stroke-width="0.25" transform="rotate(-24 419.70 286.10)">No Effectors</text>
<text x="436.60" y="285.20" font-size="7.3" text-anchor="end" font-weight="normal" fill="#1e1e1e" stroke="#1e1e1e" stroke-width="0.25" transform="rotate(-25 436.60 285.20)">25:1</text>
<text x="460.60" y="288.00" font-size="7.3" text-anchor="end" font-weight="normal" fill="#1e1e1e" stroke="#1e1e1e" stroke-width="0.25" transform="rotate(-25 460.60 288.00)">12.5:1</text>
<text x="481.80" y="286.10" font-size="7.3" text-anchor="end" font-weight="normal" fill="#1e1e1e" stroke="#1e1e1e" stroke-width="0.25" transform="rotate(-25 481.80 286.10)">6.25:1</text>
<text x="506.80" y="286.10" font-size="7.6" text-anchor="end" font-weight="normal" fill="#1e1e1e" stroke="#1e1e1e" stroke-width="0.25" transform="rotate(-24 506.80 286.10)">No Effectors</text>
<path d="M161.60,301.70 L161.60,303.90 L237.70,303.90 L237.70,301.70" stroke="#333" stroke-width="1.0" fill="none"/>
<text x="199.10" y="313.80" font-size="9.7" text-anchor="middle" font-weight="normal" fill="#1e1e1e" stroke="#1e1e1e" stroke-width="0.25">No Abx</text>
<path d="M246.00,301.00 L246.00,303.20 L322.40,303.20 L322.40,301.00" stroke="#333" stroke-width="1.0" fill="none"/>
<text x="283.75" y="313.80" font-size="9.7" text-anchor="middle" font-weight="normal" fill="#1e1e1e" stroke="#1e1e1e" stroke-width="0.25">Trastuzumab</text>
<path d="M331.40,301.50 L331.40,303.70 L407.70,303.70 L407.70,301.50" stroke="#333" stroke-width="1.0" fill="none"/>
<text x="366.90" y="313.80" font-size="9.7" text-anchor="middle" font-weight="normal" fill="#1e1e1e" stroke="#1e1e1e" stroke-width="0.25">Alemtuzumab</text>
<path d="M416.90,300.80 L416.90,303.00 L491.90,303.00 L491.90,300.80" stroke="#333" stroke-width="1.0" fill="none"/>
<text x="456.00" y="313.80" font-size="9.7" text-anchor="middle" font-weight="normal" fill="#1e1e1e" stroke="#1e1e1e" stroke-width="0.25">Ofatumumab</text>
<rect x="180.20" y="220.00" width="25.40" height="3.20" fill="#e6f3f3" stroke="#34403f" stroke-width="1.0"/>
<rect x="180.20" y="228.40" width="25.40" height="3.20" fill="#4d59dc" stroke="#111" stroke-width="1.0"/>
<rect x="180.20" y="237.20" width="25.40" height="3.20" fill="#0f1585" stroke="#111" stroke-width="1.0"/>
<text x="210.50" y="222.60" font-size="9.2" text-anchor="start" font-weight="normal" fill="#1e1e1e" stroke="#1e1e1e" stroke-width="0.35">Vehicle</text>
<text x="210.50" y="233.20" font-size="9.2" text-anchor="start" font-weight="normal" fill="#1e1e1e" stroke="#1e1e1e" stroke-width="0.35">KPT-185 0.5 µM</text>
<text x="210.50" y="242.80" font-size="9.2" text-anchor="start" font-weight="normal" fill="#1e1e1e" stroke="#1e1e1e" stroke-width="0.35">KPT-185 1 µM</text>
<text x="134.90" y="235.30" font-size="9.8" text-anchor="middle" font-weight="normal" fill="#1e1e1e" stroke="#1e1e1e" stroke-width="0.25" transform="rotate(-90 134.90 235.30)">% Cytotoxicity</text>
<line x1="162.50" y1="358.00" x2="162.50" y2="425.00" stroke="#333" stroke-width="1.1"/>
<line x1="156.40" y1="408.25" x2="162.50" y2="408.25" stroke="#333" stroke-width="1.1"/>
<text x="154.60" y="411.05" font-size="9.4" text-anchor="end" font-weight="normal" fill="#1e1e1e" stroke="#1e1e1e" stroke-width="0.25">20</text>
<line x1="156.40" y1="391.50" x2="162.50" y2="391.50" stroke="#333" stroke-width="1.1"/>
<text x="154.60" y="394.30" font-size="9.4" text-anchor="end" font-weight="normal" fill="#1e1e1e" stroke="#1e1e1e" stroke-width="0.25">40</text>
<line x1="156.40" y1="374.75" x2="162.50" y2="374.75" stroke="#333" stroke-width="1.1"/>
<text x="154.60" y="377.55" font-size="9.4" text-anchor="end" font-weight="normal" fill="#1e1e1e" stroke="#1e1e1e" stroke-width="0.25">60</text>
<line x1="156.40" y1="358.00" x2="162.50" y2="358.00" stroke="#333" stroke-width="1.1"/>
<text x="154.60" y="360.80" font-size="9.4" text-anchor="end" font-weight="normal" fill="#1e1e1e" stroke="#1e1e1e" stroke-width="0.25">80</text>
<text x="157.20" y="429.40" font-size="9.4" text-anchor="end" font-weight="normal" fill="#1e1e1e" stroke="#1e1e1e" stroke-width="0.25">0</text>
<line x1="162.50" y1="425.00" x2="513.00" y2="425.00" stroke="#333" stroke-width="1.2"/>
<line x1="173.10" y1="425.00" x2="173.10" y2="427.60" stroke="#333" stroke-width="0.9"/>
<line x1="166.60" y1="416.29" x2="166.60" y2="418.30" stroke="#222" stroke-width="0.9"/>
<line x1="165.50" y1="416.29" x2="167.70" y2="416.29" stroke="#222" stroke-width="0.9"/>
<rect x="164.60" y="418.30" width="4.00" height="6.70" fill="#e6f3f3" stroke="#34403f" stroke-width="0.9"/>
<line x1="172.80" y1="417.21" x2="172.80" y2="419.22" stroke="#222" stroke-width="0.9"/>
<line x1="171.70" y1="417.21" x2="173.90" y2="417.21" stroke="#222" stroke-width="0.9"/>
<rect x="170.80" y="419.22" width="4.00" height="5.78" fill="#4d59dc" stroke="#1d2470" stroke-width="0.9"/>
<line x1="179.00" y1="418.13" x2="179.00" y2="419.81" stroke="#222" stroke-width="0.9"/>
<line x1="177.90" y1="418.13" x2="180.10" y2="418.13" stroke="#222" stroke-width="0.9"/>
<rect x="177.00" y="419.81" width="4.00" height="5.19" fill="#0f1585" stroke="#0a0d50" stroke-width="0.9"/>
<line x1="195.02" y1="425.00" x2="195.02" y2="427.60" stroke="#333" stroke-width="0.9"/>
<line x1="188.52" y1="418.38" x2="188.52" y2="420.23" stroke="#222" stroke-width="0.9"/>
<line x1="187.42" y1="418.38" x2="189.62" y2="418.38" stroke="#222" stroke-width="0.9"/>
<rect x="186.52" y="420.23" width="4.00" height="4.77" fill="#e6f3f3" stroke="#34403f" stroke-width="0.9"/>
<line x1="194.72" y1="419.56" x2="194.72" y2="420.81" stroke="#222" stroke-width="0.9"/>
<line x1="193.62" y1="419.56" x2="195.82" y2="419.56" stroke="#222" stroke-width="0.9"/>
<rect x="192.72" y="420.81" width="4.00" height="4.19" fill="#4d59dc" stroke="#1d2470" stroke-width="0.9"/>
<line x1="200.92" y1="419.47" x2="200.92" y2="420.56" stroke="#222" stroke-width="0.9"/>
<line x1="199.82" y1="419.47" x2="202.02" y2="419.47" stroke="#222" stroke-width="0.9"/>
<rect x="198.92" y="420.56" width="4.00" height="4.44" fill="#0f1585" stroke="#0a0d50" stroke-width="0.9"/>
<line x1="216.94" y1="425.00" x2="216.94" y2="427.60" stroke="#333" stroke-width="0.9"/>
<line x1="210.44" y1="422.15" x2="210.44" y2="422.65" stroke="#222" stroke-width="0.9"/>
<line x1="209.34" y1="422.15" x2="211.54" y2="422.15" stroke="#222" stroke-width="0.9"/>
<rect x="208.44" y="422.65" width="4.00" height="2.34" fill="#e6f3f3" stroke="#34403f" stroke-width="0.9"/>
<line x1="216.64" y1="422.32" x2="216.64" y2="422.82" stroke="#222" stroke-width="0.9"/>
<line x1="215.54" y1="422.32" x2="217.74" y2="422.32" stroke="#222" stroke-width="0.9"/>
<rect x="214.64" y="422.82" width="4.00" height="2.18" fill="#4d59dc" stroke="#1d2470" stroke-width="0.9"/>
<line x1="222.84" y1="422.57" x2="222.84" y2="422.99" stroke="#222" stroke-width="0.9"/>
<line x1="221.74" y1="422.57" x2="223.94" y2="422.57" stroke="#222" stroke-width="0.9"/>
<rect x="220.84" y="422.99" width="4.00" height="2.01" fill="#0f1585" stroke="#0a0d50" stroke-width="0.9"/>
<line x1="238.86" y1="425.00" x2="238.86" y2="427.60" stroke="#333" stroke-width="0.9"/>
<rect x="230.36" y="425.00" width="4.00" height="1.34" fill="#333"/>
<rect x="236.56" y="425.00" width="4.00" height="1.84" fill="#333"/>
<rect x="242.76" y="425.00" width="4.00" height="1.84" fill="#333"/>
<line x1="260.78" y1="425.00" x2="260.78" y2="427.60" stroke="#333" stroke-width="0.9"/>
<line x1="254.28" y1="414.20" x2="254.28" y2="416.71" stroke="#222" stroke-width="0.9"/>
<line x1="253.18" y1="414.20" x2="255.38" y2="414.20" stroke="#222" stroke-width="0.9"/>
<rect x="252.28" y="416.71" width="4.00" height="8.29" fill="#e6f3f3" stroke="#34403f" stroke-width="0.9"/>
<line x1="260.48" y1="417.30" x2="260.48" y2="418.97" stroke="#222" stroke-width="0.9"/>
<line x1="259.38" y1="417.30" x2="261.58" y2="417.30" stroke="#222" stroke-width="0.9"/>
<rect x="258.48" y="418.97" width="4.00" height="6.03" fill="#4d59dc" stroke="#1d2470" stroke-width="0.9"/>
<line x1="266.68" y1="417.96" x2="266.68" y2="419.22" stroke="#222" stroke-width="0.9"/>
<line x1="265.58" y1="417.96" x2="267.78" y2="417.96" stroke="#222" stroke-width="0.9"/>
<rect x="264.68" y="419.22" width="4.00" height="5.78" fill="#0f1585" stroke="#0a0d50" stroke-width="0.9"/>
<line x1="282.70" y1="425.00" x2="282.70" y2="427.60" stroke="#333" stroke-width="0.9"/>
<line x1="276.20" y1="419.98" x2="276.20" y2="421.23" stroke="#222" stroke-width="0.9"/>
<line x1="275.10" y1="419.98" x2="277.30" y2="419.98" stroke="#222" stroke-width="0.9"/>
<rect x="274.20" y="421.23" width="4.00" height="3.77" fill="#e6f3f3" stroke="#34403f" stroke-width="0.9"/>
<line x1="282.40" y1="421.06" x2="282.40" y2="422.07" stroke="#222" stroke-width="0.9"/>
<line x1="281.30" y1="421.06" x2="283.50" y2="421.06" stroke="#222" stroke-width="0.9"/>
<rect x="280.40" y="422.07" width="4.00" height="2.93" fill="#4d59dc" stroke="#1d2470" stroke-width="0.9"/>
<line x1="288.60" y1="421.40" x2="288.60" y2="422.07" stroke="#222" stroke-width="0.9"/>
<line x1="287.50" y1="421.40" x2="289.70" y2="421.40" stroke="#222" stroke-width="0.9"/>
<rect x="286.60" y="422.07" width="4.00" height="2.93" fill="#0f1585" stroke="#0a0d50" stroke-width="0.9"/>
<line x1="304.62" y1="425.00" x2="304.62" y2="427.60" stroke="#333" stroke-width="0.9"/>
<line x1="298.12" y1="420.90" x2="298.12" y2="422.07" stroke="#222" stroke-width="0.9"/>
<line x1="297.02" y1="420.90" x2="299.22" y2="420.90" stroke="#222" stroke-width="0.9"/>
<rect x="296.12" y="422.07" width="4.00" height="2.93" fill="#e6f3f3" stroke="#34403f" stroke-width="0.9"/>
<line x1="304.32" y1="422.24" x2="304.32" y2="422.91" stroke="#222" stroke-width="0.9"/>
<line x1="303.22" y1="422.24" x2="305.42" y2="422.24" stroke="#222" stroke-width="0.9"/>
<rect x="302.32" y="422.91" width="4.00" height="2.09" fill="#4d59dc" stroke="#1d2470" stroke-width="0.9"/>
<line x1="310.52" y1="422.49" x2="310.52" y2="422.91" stroke="#222" stroke-width="0.9"/>
<line x1="309.42" y1="422.49" x2="311.62" y2="422.49" stroke="#222" stroke-width="0.9"/>
<rect x="308.52" y="422.91" width="4.00" height="2.09" fill="#0f1585" stroke="#0a0d50" stroke-width="0.9"/>
<line x1="326.54" y1="425.00" x2="326.54" y2="427.60" stroke="#333" stroke-width="0.9"/>
<rect x="318.04" y="425.00" width="4.00" height="1.50" fill="#333"/>
<rect x="324.24" y="425.00" width="4.00" height="2.01" fill="#333"/>
<rect x="330.44" y="425.00" width="4.00" height="2.01" fill="#333"/>
<line x1="348.46" y1="425.00" x2="348.46" y2="427.60" stroke="#333" stroke-width="0.9"/>
<line x1="341.96" y1="373.33" x2="341.96" y2="378.69" stroke="#222" stroke-width="0.9"/>
<line x1="340.86" y1="373.33" x2="343.06" y2="373.33" stroke="#222" stroke-width="0.9"/>
<rect x="339.96" y="378.69" width="4.00" height="46.31" fill="#e6f3f3" stroke="#34403f" stroke-width="0.9"/>
<rect x="340.46" y="379.19" width="3.00" height="7.50" fill="#000" fill-opacity="0.38"/>
<line x1="348.16" y1="379.44" x2="348.16" y2="381.45" stroke="#222" stroke-width="0.9"/>
<line x1="347.06" y1="379.44" x2="349.26" y2="379.44" stroke="#222" stroke-width="0.9"/>
<rect x="346.16" y="381.45" width="4.00" height="43.55" fill="#4d59dc" stroke="#1d2470" stroke-width="0.9"/>
<rect x="346.66" y="381.95" width="3.00" height="7.50" fill="#000" fill-opacity="0.22"/>
<line x1="354.36" y1="381.45" x2="354.36" y2="385.97" stroke="#222" stroke-width="0.9"/>
<line x1="353.26" y1="381.45" x2="355.46" y2="381.45" stroke="#222" stroke-width="0.9"/>
<rect x="352.36" y="385.97" width="4.00" height="39.03" fill="#0f1585" stroke="#0a0d50" stroke-width="0.9"/>
<rect x="352.86" y="386.47" width="3.00" height="7.50" fill="#000" fill-opacity="0.12"/>
<line x1="370.38" y1="425.00" x2="370.38" y2="427.60" stroke="#333" stroke-width="0.9"/>
<line x1="363.88" y1="376.34" x2="363.88" y2="383.38" stroke="#222" stroke-width="0.9"/>
<line x1="362.78" y1="376.34" x2="364.98" y2="376.34" stroke="#222" stroke-width="0.9"/>
<rect x="361.88" y="383.38" width="4.00" height="41.62" fill="#e6f3f3" stroke="#34403f" stroke-width="0.9"/>
<rect x="362.38" y="383.88" width="3.00" height="7.50" fill="#000" fill-opacity="0.38"/>
<line x1="370.08" y1="384.80" x2="370.08" y2="388.49" stroke="#222" stroke-width="0.9"/>
<line x1="368.98" y1="384.80" x2="371.18" y2="384.80" stroke="#222" stroke-width="0.9"/>
<rect x="368.08" y="388.49" width="4.00" height="36.52" fill="#4d59dc" stroke="#1d2470" stroke-width="0.9"/>
<rect x="368.58" y="388.99" width="3.00" height="7.30" fill="#000" fill-opacity="0.22"/>
<line x1="376.28" y1="392.50" x2="376.28" y2="396.19" stroke="#222" stroke-width="0.9"/>
<line x1="375.18" y1="392.50" x2="377.38" y2="392.50" stroke="#222" stroke-width="0.9"/>
<rect x="374.28" y="396.19" width="4.00" height="28.81" fill="#0f1585" stroke="#0a0d50" stroke-width="0.9"/>
<rect x="374.78" y="396.69" width="3.00" height="5.76" fill="#000" fill-opacity="0.12"/>
<line x1="392.30" y1="425.00" x2="392.30" y2="427.60" stroke="#333" stroke-width="0.9"/>
<line x1="385.80" y1="391.50" x2="385.80" y2="396.19" stroke="#222" stroke-width="0.9"/>
<line x1="384.70" y1="391.50" x2="386.90" y2="391.50" stroke="#222" stroke-width="0.9"/>
<rect x="383.80" y="396.19" width="4.00" height="28.81" fill="#e6f3f3" stroke="#34403f" stroke-width="0.9"/>
<rect x="384.30" y="396.69" width="3.00" height="5.76" fill="#000" fill-opacity="0.38"/>
<line x1="392.00" y1="392.92" x2="392.00" y2="397.03" stroke="#222" stroke-width="0.9"/>
<line x1="390.90" y1="392.92" x2="393.10" y2="392.92" stroke="#222" stroke-width="0.9"/>
<rect x="390.00" y="397.03" width="4.00" height="27.97" fill="#4d59dc" stroke="#1d2470" stroke-width="0.9"/>
<rect x="390.50" y="397.53" width="3.00" height="5.59" fill="#000" fill-opacity="0.22"/>
<line x1="398.20" y1="395.02" x2="398.20" y2="398.62" stroke="#222" stroke-width="0.9"/>
<line x1="397.10" y1="395.02" x2="399.30" y2="395.02" stroke="#222" stroke-width="0.9"/>
<rect x="396.20" y="398.62" width="4.00" height="26.38" fill="#0f1585" stroke="#0a0d50" stroke-width="0.9"/>
<rect x="396.70" y="399.12" width="3.00" height="5.28" fill="#000" fill-opacity="0.12"/>
<line x1="414.22" y1="425.00" x2="414.22" y2="427.60" stroke="#333" stroke-width="0.9"/>
<rect x="405.72" y="425.00" width="4.00" height="1.34" fill="#333"/>
<rect x="411.92" y="425.00" width="4.00" height="1.67" fill="#333"/>
<rect x="418.12" y="425.00" width="4.00" height="1.67" fill="#333"/>
<line x1="436.14" y1="425.00" x2="436.14" y2="427.60" stroke="#333" stroke-width="0.9"/>
<line x1="429.64" y1="362.94" x2="429.64" y2="370.31" stroke="#222" stroke-width="0.9"/>
<line x1="428.54" y1="362.94" x2="430.74" y2="362.94" stroke="#222" stroke-width="0.9"/>
<rect x="427.64" y="370.31" width="4.00" height="54.69" fill="#e6f3f3" stroke="#34403f" stroke-width="0.9"/>
<rect x="428.14" y="370.81" width="3.00" height="7.50" fill="#000" fill-opacity="0.38"/>
<line x1="435.84" y1="360.76" x2="435.84" y2="364.37" stroke="#222" stroke-width="0.9"/>
<line x1="434.74" y1="360.76" x2="436.94" y2="360.76" stroke="#222" stroke-width="0.9"/>
<rect x="433.84" y="364.37" width="4.00" height="60.64" fill="#4d59dc" stroke="#1d2470" stroke-width="0.9"/>
<rect x="434.34" y="364.87" width="3.00" height="7.50" fill="#000" fill-opacity="0.22"/>
<line x1="442.04" y1="360.76" x2="442.04" y2="364.37" stroke="#222" stroke-width="0.9"/>
<line x1="440.94" y1="360.76" x2="443.14" y2="360.76" stroke="#222" stroke-width="0.9"/>
<rect x="440.04" y="364.37" width="4.00" height="60.64" fill="#0f1585" stroke="#0a0d50" stroke-width="0.9"/>
<rect x="440.54" y="364.87" width="3.00" height="7.50" fill="#000" fill-opacity="0.12"/>
<line x1="458.06" y1="425.00" x2="458.06" y2="427.60" stroke="#333" stroke-width="0.9"/>
<line x1="451.56" y1="366.46" x2="451.56" y2="372.99" stroke="#222" stroke-width="0.9"/>
<line x1="450.46" y1="366.46" x2="452.66" y2="366.46" stroke="#222" stroke-width="0.9"/>
<rect x="449.56" y="372.99" width="4.00" height="52.01" fill="#e6f3f3" stroke="#34403f" stroke-width="0.9"/>
<rect x="450.06" y="373.49" width="3.00" height="7.50" fill="#000" fill-opacity="0.38"/>
<line x1="457.76" y1="367.13" x2="457.76" y2="370.31" stroke="#222" stroke-width="0.9"/>
<line x1="456.66" y1="367.13" x2="458.86" y2="367.13" stroke="#222" stroke-width="0.9"/>
<rect x="455.76" y="370.31" width="4.00" height="54.69" fill="#4d59dc" stroke="#1d2470" stroke-width="0.9"/>
<rect x="456.26" y="370.81" width="3.00" height="7.50" fill="#000" fill-opacity="0.22"/>
<line x1="463.96" y1="371.90" x2="463.96" y2="376.09" stroke="#222" stroke-width="0.9"/>
<line x1="462.86" y1="371.90" x2="465.06" y2="371.90" stroke="#222" stroke-width="0.9"/>
<rect x="461.96" y="376.09" width="4.00" height="48.91" fill="#0f1585" stroke="#0a0d50" stroke-width="0.9"/>
<rect x="462.46" y="376.59" width="3.00" height="7.50" fill="#000" fill-opacity="0.12"/>
<line x1="479.98" y1="425.00" x2="479.98" y2="427.60" stroke="#333" stroke-width="0.9"/>
<line x1="473.48" y1="374.50" x2="473.48" y2="383.29" stroke="#222" stroke-width="0.9"/>
<line x1="472.38" y1="374.50" x2="474.58" y2="374.50" stroke="#222" stroke-width="0.9"/>
<rect x="471.48" y="383.29" width="4.00" height="41.71" fill="#e6f3f3" stroke="#34403f" stroke-width="0.9"/>
<rect x="471.98" y="383.79" width="3.00" height="7.50" fill="#000" fill-opacity="0.38"/>
<line x1="479.68" y1="377.01" x2="479.68" y2="380.36" stroke="#222" stroke-width="0.9"/>
<line x1="478.58" y1="377.01" x2="480.78" y2="377.01" stroke="#222" stroke-width="0.9"/>
<rect x="477.68" y="380.36" width="4.00" height="44.64" fill="#4d59dc" stroke="#1d2470" stroke-width="0.9"/>
<rect x="478.18" y="380.86" width="3.00" height="7.50" fill="#000" fill-opacity="0.22"/>
<line x1="485.88" y1="381.78" x2="485.88" y2="386.48" stroke="#222" stroke-width="0.9"/>
<line x1="484.78" y1="381.78" x2="486.98" y2="381.78" stroke="#222" stroke-width="0.9"/>
<rect x="483.88" y="386.48" width="4.00" height="38.52" fill="#0f1585" stroke="#0a0d50" stroke-width="0.9"/>
<rect x="484.38" y="386.98" width="3.00" height="7.50" fill="#000" fill-opacity="0.12"/>
<line x1="501.90" y1="425.00" x2="501.90" y2="427.60" stroke="#333" stroke-width="0.9"/>
<rect x="493.40" y="425.00" width="4.00" height="1.34" fill="#333"/>
<rect x="499.60" y="425.00" width="4.00" height="1.67" fill="#333"/>
<rect x="505.80" y="425.00" width="4.00" height="1.67" fill="#333"/>
<text x="172.80" y="432.30" font-size="7.3" text-anchor="end" font-weight="normal" fill="#1e1e1e" stroke="#1e1e1e" stroke-width="0.25" transform="rotate(-25 172.80 432.30)">25:1</text>
<text x="196.40" y="433.20" font-size="7.3" text-anchor="end" font-weight="normal" fill="#1e1e1e" stroke="#1e1e1e" stroke-width="0.25" transform="rotate(-25 196.40 433.20)">12.5:1</text>
<text x="218.00" y="433.20" font-size="7.3" text-anchor="end" font-weight="normal" fill="#1e1e1e" stroke="#1e1e1e" stroke-width="0.25" transform="rotate(-25 218.00 433.20)">6.25:1</text>
<text x="243.00" y="434.20" font-size="7.6" text-anchor="end" font-weight="normal" fill="#1e1e1e" stroke="#1e1e1e" stroke-width="0.25" transform="rotate(-24 243.00 434.20)">No Effectors</text>
<text x="264.00" y="435.20" font-size="7.3" text-anchor="end" font-weight="normal" fill="#1e1e1e" stroke="#1e1e1e" stroke-width="0.25" transform="rotate(-25 264.00 435.20)">25:1</text>
<text x="287.10" y="437.10" font-size="7.3" text-anchor="end" font-weight="normal" fill="#1e1e1e" stroke="#1e1e1e" stroke-width="0.25" transform="rotate(-25 287.10 437.10)">12.5:1</text>
<text x="307.90" y="435.20" font-size="7.3" text-anchor="end" font-weight="normal" fill="#1e1e1e" stroke="#1e1e1e" stroke-width="0.25" transform="rotate(-25 307.90 435.20)">6.25:1</text>
<text x="332.90" y="436.10" font-size="7.6" text-anchor="end" font-weight="normal" fill="#1e1e1e" stroke="#1e1e1e" stroke-width="0.25" transform="rotate(-24 332.90 436.10)">No Effectors</text>
<text x="353.60" y="435.20" font-size="7.3" text-anchor="end" font-weight="normal" fill="#1e1e1e" stroke="#1e1e1e" stroke-width="0.25" transform="rotate(-25 353.60 435.20)">25:1</text>
<text x="376.70" y="437.10" font-size="7.3" text-anchor="end" font-weight="normal" fill="#1e1e1e" stroke="#1e1e1e" stroke-width="0.25" transform="rotate(-25 376.70 437.10)">12.5:1</text>
<text x="397.80" y="435.20" font-size="7.3" text-anchor="end" font-weight="normal" fill="#1e1e1e" stroke="#1e1e1e" stroke-width="0.25" transform="rotate(-25 397.80 435.20)">6.25:1</text>
<text x="422.80" y="436.10" font-size="7.6" text-anchor="end" font-weight="normal" fill="#1e1e1e" stroke="#1e1e1e" stroke-width="0.25" transform="rotate(-24 422.80 436.10)">No Effectors</text>
<text x="441.50" y="435.20" font-size="7.3" text-anchor="end" font-weight="normal" fill="#1e1e1e" stroke="#1e1e1e" stroke-width="0.25" transform="rotate(-25 441.50 435.20)">25:1</text>
<text x="465.20" y="437.10" font-size="7.3" text-anchor="end" font-weight="normal" fill="#1e1e1e" stroke="#1e1e1e" stroke-width="0.25" transform="rotate(-25 465.20 437.10)">12.5:1</text>
<text x="485.80" y="435.20" font-size="7.3" text-anchor="end" font-weight="normal" fill="#1e1e1e" stroke="#1e1e1e" stroke-width="0.25" transform="rotate(-25 485.80 435.20)">6.25:1</text>
<text x="510.80" y="436.10" font-size="7.6" text-anchor="end" font-weight="normal" fill="#1e1e1e" stroke="#1e1e1e" stroke-width="0.25" transform="rotate(-24 510.80 436.10)">No Effectors</text>
<path d="M165.60,451.00 L165.60,453.20 L241.50,453.20 L241.50,451.00" stroke="#333" stroke-width="1.0" fill="none"/>
<text x="203.30" y="463.90" font-size="9.7" text-anchor="middle" font-weight="normal" fill="#1e1e1e" stroke="#1e1e1e" stroke-width="0.25">No Abx</text>
<path d="M250.30,450.70 L250.30,452.90 L326.70,452.90 L326.70,450.70" stroke="#333" stroke-width="1.0" fill="none"/>
<text x="288.20" y="463.90" font-size="9.7" text-anchor="middle" font-weight="normal" fill="#1e1e1e" stroke="#1e1e1e" stroke-width="0.25">Trastuzumab</text>
<path d="M335.80,451.00 L335.80,453.20 L411.40,453.20 L411.40,451.00" stroke="#333" stroke-width="1.0" fill="none"/>
<text x="370.90" y="463.90" font-size="9.7" text-anchor="middle" font-weight="normal" fill="#1e1e1e" stroke="#1e1e1e" stroke-width="0.25">Alemtuzumab</text>
<path d="M420.90,450.70 L420.90,452.90 L496.50,452.90 L496.50,450.70" stroke="#333" stroke-width="1.0" fill="none"/>
<text x="460.00" y="463.90" font-size="9.7" text-anchor="middle" font-weight="normal" fill="#1e1e1e" stroke="#1e1e1e" stroke-width="0.25">Ofatumumab</text>
<rect x="186.30" y="360.20" width="25.40" height="3.20" fill="#e6f3f3" stroke="#34403f" stroke-width="1.0"/>
<rect x="186.30" y="369.00" width="25.40" height="3.20" fill="#4d59dc" stroke="#111" stroke-width="1.0"/>
<rect x="186.30" y="378.60" width="25.40" height="3.20" fill="#0f1585" stroke="#111" stroke-width="1.0"/>
<text x="216.60" y="365.20" font-size="9.2" text-anchor="start" font-weight="normal" fill="#1e1e1e" stroke="#1e1e1e" stroke-width="0.35">Vehicle</text>
<text x="216.60" y="375.40" font-size="9.2" text-anchor="start" font-weight="normal" fill="#1e1e1e" stroke="#1e1e1e" stroke-width="0.35">KPT-251 0.5 µM</text>
<text x="216.60" y="383.70" font-size="9.2" text-anchor="start" font-weight="normal" fill="#1e1e1e" stroke="#1e1e1e" stroke-width="0.35">KPT-251 1 µM</text>
<text x="140.30" y="388.10" font-size="9.8" text-anchor="middle" font-weight="normal" fill="#1e1e1e" stroke="#1e1e1e" stroke-width="0.25" transform="rotate(-90 140.30 388.10)">% Cytotoxicity</text>
<line x1="34.60" y1="516.20" x2="34.60" y2="611.40" stroke="#333" stroke-width="1.1"/>
<line x1="31.40" y1="611.40" x2="34.60" y2="611.40" stroke="#333" stroke-width="1.1"/>
<text x="30.80" y="614.00" font-size="9.4" text-anchor="end" font-weight="normal" fill="#1e1e1e" stroke="#1e1e1e" stroke-width="0.25">0</text>
<line x1="31.40" y1="592.36" x2="34.60" y2="592.36" stroke="#333" stroke-width="1.1"/>
<text x="30.80" y="594.96" font-size="9.4" text-anchor="end" font-weight="normal" fill="#1e1e1e" stroke="#1e1e1e" stroke-width="0.25">20</text>
<line x1="31.40" y1="573.32" x2="34.60" y2="573.32" stroke="#333" stroke-width="1.1"/>
<text x="30.80" y="575.92" font-size="9.4" text-anchor="end" font-weight="normal" fill="#1e1e1e" stroke="#1e1e1e" stroke-width="0.25">40</text>
<line x1="31.40" y1="554.28" x2="34.60" y2="554.28" stroke="#333" stroke-width="1.1"/>
<text x="30.80" y="556.88" font-size="9.4" text-anchor="end" font-weight="normal" fill="#1e1e1e" stroke="#1e1e1e" stroke-width="0.25">60</text>
<line x1="31.40" y1="535.24" x2="34.60" y2="535.24" stroke="#333" stroke-width="1.1"/>
<text x="30.80" y="537.84" font-size="9.4" text-anchor="end" font-weight="normal" fill="#1e1e1e" stroke="#1e1e1e" stroke-width="0.25">80</text>
<line x1="31.40" y1="516.20" x2="34.60" y2="516.20" stroke="#333" stroke-width="1.1"/>
<text x="30.80" y="518.80" font-size="9.4" text-anchor="end" font-weight="normal" fill="#1e1e1e" stroke="#1e1e1e" stroke-width="0.25">100</text>
<line x1="34.10" y1="611.40" x2="177.60" y2="611.40" stroke="#333" stroke-width="1.2"/>
<line x1="52.70" y1="611.40" x2="52.70" y2="614.00" stroke="#333" stroke-width="1.0"/>
<line x1="43.00" y1="549.62" x2="43.00" y2="555.61" stroke="#222" stroke-width="0.9"/>
<line x1="41.60" y1="549.62" x2="44.40" y2="549.62" stroke="#222" stroke-width="0.9"/>
<rect x="39.50" y="555.61" width="7.00" height="55.79" fill="#dbf2f7" stroke="#223" stroke-width="0.9"/>
<line x1="52.70" y1="544.38" x2="52.70" y2="552.09" stroke="#222" stroke-width="0.9"/>
<line x1="51.30" y1="544.38" x2="54.10" y2="544.38" stroke="#222" stroke-width="0.9"/>
<rect x="49.20" y="552.09" width="7.00" height="59.31" fill="#4556e6" stroke="#1a2070" stroke-width="0.9"/>
<line x1="62.40" y1="555.99" x2="62.40" y2="560.94" stroke="#222" stroke-width="0.9"/>
<line x1="61.00" y1="555.99" x2="63.80" y2="555.99" stroke="#222" stroke-width="0.9"/>
<rect x="58.90" y="560.94" width="7.00" height="50.46" fill="#0a1290" stroke="#050a50" stroke-width="0.9"/>
<line x1="88.55" y1="611.40" x2="88.55" y2="614.00" stroke="#333" stroke-width="1.0"/>
<line x1="78.85" y1="560.47" x2="78.85" y2="563.04" stroke="#222" stroke-width="0.9"/>
<line x1="77.45" y1="560.47" x2="80.25" y2="560.47" stroke="#222" stroke-width="0.9"/>
<rect x="75.35" y="563.04" width="7.00" height="48.36" fill="#dbf2f7" stroke="#223" stroke-width="0.9"/>
<line x1="88.55" y1="538.86" x2="88.55" y2="555.99" stroke="#222" stroke-width="0.9"/>
<line x1="87.15" y1="538.86" x2="89.95" y2="538.86" stroke="#222" stroke-width="0.9"/>
<rect x="85.05" y="555.99" width="7.00" height="55.41" fill="#4556e6" stroke="#1a2070" stroke-width="0.9"/>
<line x1="98.25" y1="565.32" x2="98.25" y2="571.61" stroke="#222" stroke-width="0.9"/>
<line x1="96.85" y1="565.32" x2="99.65" y2="565.32" stroke="#222" stroke-width="0.9"/>
<rect x="94.75" y="571.61" width="7.00" height="39.79" fill="#0a1290" stroke="#050a50" stroke-width="0.9"/>
<line x1="124.40" y1="611.40" x2="124.40" y2="614.00" stroke="#333" stroke-width="1.0"/>
<line x1="114.70" y1="575.41" x2="114.70" y2="579.41" stroke="#222" stroke-width="0.9"/>
<line x1="113.30" y1="575.41" x2="116.10" y2="575.41" stroke="#222" stroke-width="0.9"/>
<rect x="111.20" y="579.41" width="7.00" height="31.99" fill="#dbf2f7" stroke="#223" stroke-width="0.9"/>
<line x1="124.40" y1="553.52" x2="124.40" y2="571.13" stroke="#222" stroke-width="0.9"/>
<line x1="123.00" y1="553.52" x2="125.80" y2="553.52" stroke="#222" stroke-width="0.9"/>
<rect x="120.90" y="571.13" width="7.00" height="40.27" fill="#4556e6" stroke="#1a2070" stroke-width="0.9"/>
<line x1="134.10" y1="578.84" x2="134.10" y2="584.55" stroke="#222" stroke-width="0.9"/>
<line x1="132.70" y1="578.84" x2="135.50" y2="578.84" stroke="#222" stroke-width="0.9"/>
<rect x="130.60" y="584.55" width="7.00" height="26.85" fill="#0a1290" stroke="#050a50" stroke-width="0.9"/>
<line x1="160.25" y1="611.40" x2="160.25" y2="614.00" stroke="#333" stroke-width="1.0"/>
<rect x="147.35" y="612.30" width="6.40" height="1.20" fill="#dbf2f7" stroke="#1a1a2a" stroke-width="1.0"/>
<rect x="157.05" y="612.30" width="6.40" height="1.20" fill="#4556e6" stroke="#1a1a2a" stroke-width="1.0"/>
<rect x="166.75" y="612.30" width="6.40" height="1.20" fill="#0a1290" stroke="#1a1a2a" stroke-width="1.0"/>
<text x="57.10" y="624.10" font-size="7.3" text-anchor="end" font-weight="normal" fill="#1e1e1e" stroke="#1e1e1e" stroke-width="0.25" transform="rotate(-25 57.10 624.10)">25:1</text>
<text x="88.80" y="624.30" font-size="7.3" text-anchor="end" font-weight="normal" fill="#1e1e1e" stroke="#1e1e1e" stroke-width="0.25" transform="rotate(-25 88.80 624.30)">12.5:1</text>
<text x="124.70" y="622.50" font-size="7.3" text-anchor="end" font-weight="normal" fill="#1e1e1e" stroke="#1e1e1e" stroke-width="0.25" transform="rotate(-25 124.70 622.50)">6.25:1</text>
<text x="167.60" y="622.30" font-size="7.6" text-anchor="end" font-weight="normal" fill="#1e1e1e" stroke="#1e1e1e" stroke-width="0.25" transform="rotate(-24 167.60 622.30)">No Effectors</text>
<rect x="129.20" y="516.40" width="11.40" height="5.80" fill="#dbf2f7" stroke="#223" stroke-width="1.0"/>
<rect x="129.20" y="527.80" width="11.40" height="5.80" fill="#4556e6" stroke="#1a2070" stroke-width="1.0"/>
<rect x="129.20" y="538.10" width="11.40" height="5.80" fill="#0a1290" stroke="#050a50" stroke-width="1.0"/>
<text x="149.50" y="523.60" font-size="9.2" text-anchor="start" font-weight="normal" fill="#1e1e1e" stroke="#1e1e1e" stroke-width="0.25">Vehicle</text>
<text x="149.50" y="533.70" font-size="9.2" text-anchor="start" font-weight="normal" fill="#1e1e1e" stroke="#1e1e1e" stroke-width="0.25">KPT-185 0.5 µM</text>
<text x="149.50" y="543.00" font-size="9.2" text-anchor="start" font-weight="normal" fill="#1e1e1e" stroke="#1e1e1e" stroke-width="0.25">KPT-185 1 µM</text>
<text x="17.60" y="560.10" font-size="9.9" text-anchor="middle" font-weight="normal" fill="#1e1e1e" stroke="#1e1e1e" stroke-width="0.25" transform="rotate(-90 17.60 560.10)">% Cytotoxicity</text>
<line x1="286.40" y1="516.60" x2="286.40" y2="611.20" stroke="#333" stroke-width="1.1"/>
<line x1="283.20" y1="611.20" x2="286.40" y2="611.20" stroke="#333" stroke-width="1.1"/>
<text x="282.60" y="613.80" font-size="9.4" text-anchor="end" font-weight="normal" fill="#1e1e1e" stroke="#1e1e1e" stroke-width="0.25">0</text>
<line x1="283.20" y1="592.28" x2="286.40" y2="592.28" stroke="#333" stroke-width="1.1"/>
<text x="282.60" y="594.88" font-size="9.4" text-anchor="end" font-weight="normal" fill="#1e1e1e" stroke="#1e1e1e" stroke-width="0.25">20</text>
<line x1="283.20" y1="573.36" x2="286.40" y2="573.36" stroke="#333" stroke-width="1.1"/>
<text x="282.60" y="575.96" font-size="9.4" text-anchor="end" font-weight="normal" fill="#1e1e1e" stroke="#1e1e1e" stroke-width="0.25">40</text>
<line x1="283.20" y1="554.44" x2="286.40" y2="554.44" stroke="#333" stroke-width="1.1"/>
<text x="282.60" y="557.04" font-size="9.4" text-anchor="end" font-weight="normal" fill="#1e1e1e" stroke="#1e1e1e" stroke-width="0.25">60</text>
<line x1="283.20" y1="535.52" x2="286.40" y2="535.52" stroke="#333" stroke-width="1.1"/>
<text x="282.60" y="538.12" font-size="9.4" text-anchor="end" font-weight="normal" fill="#1e1e1e" stroke="#1e1e1e" stroke-width="0.25">80</text>
<line x1="283.20" y1="516.60" x2="286.40" y2="516.60" stroke="#333" stroke-width="1.1"/>
<text x="282.60" y="519.20" font-size="9.4" text-anchor="end" font-weight="normal" fill="#1e1e1e" stroke="#1e1e1e" stroke-width="0.25">100</text>
<line x1="285.90" y1="611.20" x2="428.70" y2="611.20" stroke="#333" stroke-width="1.2"/>
<line x1="304.40" y1="611.20" x2="304.40" y2="613.80" stroke="#333" stroke-width="1.0"/>
<line x1="294.70" y1="549.99" x2="294.70" y2="556.24" stroke="#222" stroke-width="0.9"/>
<line x1="293.30" y1="549.99" x2="296.10" y2="549.99" stroke="#222" stroke-width="0.9"/>
<rect x="291.20" y="556.24" width="7.00" height="54.96" fill="#dbf2f7" stroke="#223" stroke-width="0.9"/>
<line x1="304.40" y1="526.53" x2="304.40" y2="540.44" stroke="#222" stroke-width="0.9"/>
<line x1="303.00" y1="526.53" x2="305.80" y2="526.53" stroke="#222" stroke-width="0.9"/>
<rect x="300.90" y="540.44" width="7.00" height="70.76" fill="#4556e6" stroke="#1a2070" stroke-width="0.9"/>
<line x1="314.10" y1="557.56" x2="314.10" y2="560.59" stroke="#222" stroke-width="0.9"/>
<line x1="312.70" y1="557.56" x2="315.50" y2="557.56" stroke="#222" stroke-width="0.9"/>
<rect x="310.60" y="560.59" width="7.00" height="50.61" fill="#0a1290" stroke="#050a50" stroke-width="0.9"/>
<line x1="340.30" y1="611.20" x2="340.30" y2="613.80" stroke="#333" stroke-width="1.0"/>
<line x1="330.60" y1="560.59" x2="330.60" y2="563.52" stroke="#222" stroke-width="0.9"/>
<line x1="329.20" y1="560.59" x2="332.00" y2="560.59" stroke="#222" stroke-width="0.9"/>
<rect x="327.10" y="563.52" width="7.00" height="47.68" fill="#dbf2f7" stroke="#223" stroke-width="0.9"/>
<line x1="340.30" y1="558.70" x2="340.30" y2="565.32" stroke="#222" stroke-width="0.9"/>
<line x1="338.90" y1="558.70" x2="341.70" y2="558.70" stroke="#222" stroke-width="0.9"/>
<rect x="336.80" y="565.32" width="7.00" height="45.88" fill="#4556e6" stroke="#1a2070" stroke-width="0.9"/>
<line x1="350.00" y1="568.54" x2="350.00" y2="574.21" stroke="#222" stroke-width="0.9"/>
<line x1="348.60" y1="568.54" x2="351.40" y2="568.54" stroke="#222" stroke-width="0.9"/>
<rect x="346.50" y="574.21" width="7.00" height="36.99" fill="#0a1290" stroke="#050a50" stroke-width="0.9"/>
<line x1="376.20" y1="611.20" x2="376.20" y2="613.80" stroke="#333" stroke-width="1.0"/>
<line x1="366.50" y1="575.73" x2="366.50" y2="579.13" stroke="#222" stroke-width="0.9"/>
<line x1="365.10" y1="575.73" x2="367.90" y2="575.73" stroke="#222" stroke-width="0.9"/>
<rect x="363.00" y="579.13" width="7.00" height="32.07" fill="#dbf2f7" stroke="#223" stroke-width="0.9"/>
<line x1="376.20" y1="573.36" x2="376.20" y2="579.13" stroke="#222" stroke-width="0.9"/>
<line x1="374.80" y1="573.36" x2="377.60" y2="573.36" stroke="#222" stroke-width="0.9"/>
<rect x="372.70" y="579.13" width="7.00" height="32.07" fill="#4556e6" stroke="#1a2070" stroke-width="0.9"/>
<line x1="385.90" y1="579.98" x2="385.90" y2="584.33" stroke="#222" stroke-width="0.9"/>
<line x1="384.50" y1="579.98" x2="387.30" y2="579.98" stroke="#222" stroke-width="0.9"/>
<rect x="382.40" y="584.33" width="7.00" height="26.87" fill="#0a1290" stroke="#050a50" stroke-width="0.9"/>
<line x1="412.10" y1="611.20" x2="412.10" y2="613.80" stroke="#333" stroke-width="1.0"/>
<rect x="399.20" y="612.10" width="6.40" height="1.20" fill="#dbf2f7" stroke="#1a1a2a" stroke-width="1.0"/>
<rect x="408.90" y="612.10" width="6.40" height="1.20" fill="#4556e6" stroke="#1a1a2a" stroke-width="1.0"/>
<rect x="418.60" y="612.10" width="6.40" height="1.20" fill="#0a1290" stroke="#1a1a2a" stroke-width="1.0"/>
<text x="307.00" y="622.00" font-size="7.3" text-anchor="end" font-weight="normal" fill="#1e1e1e" stroke="#1e1e1e" stroke-width="0.25" transform="rotate(-25 307.00 622.00)">25:1</text>
<text x="338.20" y="622.00" font-size="7.3" text-anchor="end" font-weight="normal" fill="#1e1e1e" stroke="#1e1e1e" stroke-width="0.25" transform="rotate(-25 338.20 622.00)">12.5:1</text>
<text x="374.30" y="620.90" font-size="7.3" text-anchor="end" font-weight="normal" fill="#1e1e1e" stroke="#1e1e1e" stroke-width="0.25" transform="rotate(-25 374.30 620.90)">6.25:1</text>
<text x="417.20" y="619.10" font-size="7.6" text-anchor="end" font-weight="normal" fill="#1e1e1e" stroke="#1e1e1e" stroke-width="0.25" transform="rotate(-24 417.20 619.10)">No Effectors</text>
<rect x="363.80" y="516.40" width="11.40" height="5.80" fill="#dbf2f7" stroke="#223" stroke-width="1.0"/>
<rect x="363.80" y="527.80" width="11.40" height="5.80" fill="#4556e6" stroke="#1a2070" stroke-width="1.0"/>
<rect x="363.80" y="538.10" width="11.40" height="5.80" fill="#0a1290" stroke="#050a50" stroke-width="1.0"/>
<text x="381.50" y="523.60" font-size="9.2" text-anchor="start" font-weight="normal" fill="#1e1e1e" stroke="#1e1e1e" stroke-width="0.25">Vehicle</text>
<text x="381.50" y="533.70" font-size="9.2" text-anchor="start" font-weight="normal" fill="#1e1e1e" stroke="#1e1e1e" stroke-width="0.25">KPT-251 0.5 µM</text>
<text x="381.50" y="543.00" font-size="9.2" text-anchor="start" font-weight="normal" fill="#1e1e1e" stroke="#1e1e1e" stroke-width="0.25">KPT-251 1 µM</text>
<text x="268.00" y="560.90" font-size="9.9" text-anchor="middle" font-weight="normal" fill="#1e1e1e" stroke="#1e1e1e" stroke-width="0.25" transform="rotate(-90 268.00 560.90)">% Cytotoxicity</text>
<text x="1.30" y="506.60" font-size="11" text-anchor="start" font-weight="bold" fill="#111" stroke="#111" stroke-width="0.25">G</text>
<text x="106.60" y="198.00" font-size="11" text-anchor="start" font-weight="bold" fill="#111" stroke="#111" stroke-width="0.25">F</text>
</svg>
</body></html>
